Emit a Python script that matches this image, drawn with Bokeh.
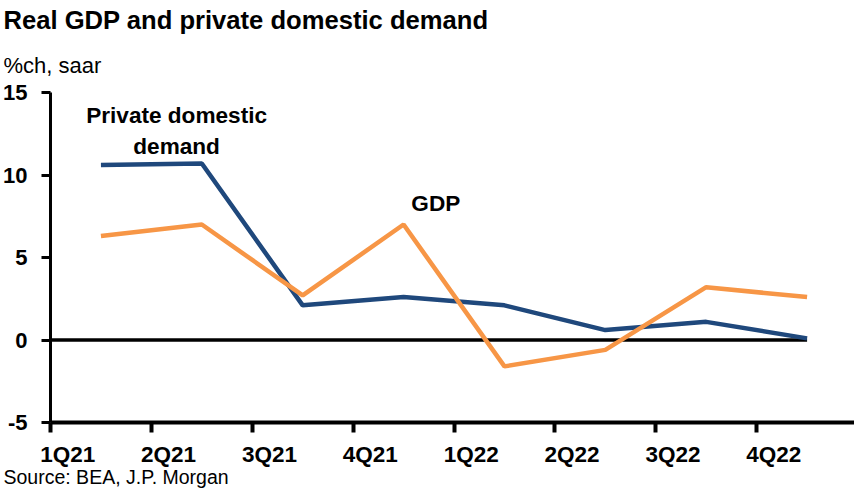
from bokeh.plotting import figure
from bokeh.models import FixedTicker, LinearAxis, Range1d, Title, Label
from bokeh.embed import file_html
from bokeh.resources import INLINE

# ---- data ----
quarters = ["1Q21", "2Q21", "3Q21", "4Q21", "1Q22", "2Q22", "3Q22", "4Q22"]
private_demand = [10.6, 10.7, 2.1, 2.6, 2.1, 0.6, 1.1, 0.1]
gdp = [6.3, 7.0, 2.7, 7.0, -1.6, -0.6, 3.2, 2.6]
y_ticks = [-5, 0, 5, 10, 15]

FONT = "Liberation Sans"
NAVY = "#1F487C"
ORANGE = "#F79646"

n = len(quarters)
xs = [i + 0.5 for i in range(n)]          # points sit mid-quarter
tick_pos = list(range(n))                  # quarter boundaries
LABEL_SHIFT = 0.17
label_pos = [i + LABEL_SHIFT for i in range(n)]

p = figure(
    frame_width=804, frame_height=330,
    x_range=Range1d(0, 7.97), y_range=Range1d(y_ticks[0], y_ticks[-1]),
    output_backend="svg", toolbar_location=None, title=None,
    min_border_left=47, min_border_right=0, min_border_top=10, min_border_bottom=68,
)
p.outline_line_color = None
p.xgrid.grid_line_color = None
p.ygrid.grid_line_color = None
p.background_fill_color = "white"

# titles (subtitle first => closer to frame)
sub = Title(text="%ch, saar", align="left", offset=-47, text_font=FONT,
            text_font_size="22px", text_font_style="normal", text_color="black",
            standoff=29)
main = Title(text="Real GDP and private domestic demand", align="left", offset=-47,
             text_font=FONT, text_font_size="25.6px", text_font_style="bold", text_color="black",
             standoff=6)
p.add_layout(sub, "above")
p.add_layout(main, "above")

# y axis
ya = p.yaxis[0]
ya.ticker = FixedTicker(ticks=y_ticks)
ya.major_label_overrides = {t: str(t) for t in y_ticks}
ya.axis_line_width = 3
ya.axis_line_color = "black"
ya.major_tick_line_width = 3
ya.major_tick_out = 9
ya.major_tick_in = 0
ya.minor_tick_line_color = None
ya.major_label_text_font = FONT
ya.major_label_text_font_size = "22px"
ya.major_label_text_font_style = "bold"
ya.major_label_text_color = "black"
ya.major_label_standoff = 14

# x axis: tick marks at quarter boundaries
xa = p.xaxis[0]
xa.ticker = FixedTicker(ticks=tick_pos)
xa.axis_line_width = 4
xa.axis_line_color = "black"
xa.major_tick_line_width = 4
xa.major_tick_out = 10
xa.major_tick_in = 0
xa.minor_tick_line_color = None
xa.major_label_text_font_size = "1px"
xa.major_label_text_alpha = 0
xa.major_label_standoff = 0

# x axis labels (shifted right of tick marks)
xl = LinearAxis(
    ticker=FixedTicker(ticks=label_pos),
    major_label_overrides={t: q for t, q in zip(label_pos, quarters)},
    axis_line_color=None, major_tick_line_color=None, minor_tick_line_color=None,
    major_tick_out=0, major_tick_in=0, major_label_standoff=9,
    major_label_text_font=FONT, major_label_text_font_size="22.5px",
    major_label_text_font_style="bold", major_label_text_color="black",
)
p.add_layout(xl, "below")

src = Title(text="Source: BEA, J.P. Morgan", align="left", offset=-47, text_font=FONT,
            text_font_size="19.5px", text_font_style="normal", text_color="black",
            standoff=-12)
p.add_layout(src, "below")

# zero line up to last observation
p.line([0, xs[-1]], [0, 0], line_color="black", line_width=3.5)

# series
p.line(xs, private_demand, line_color=NAVY, line_width=4.5)
p.line(xs, gdp, line_color=ORANGE, line_width=4.5)

# in-chart labels
for txt, x, y in [("Private domestic", 1.25, 13.62), ("demand", 1.25, 11.75), ("GDP", 3.82, 8.30)]:
    p.add_layout(Label(x=x, y=y, text=txt, text_align="center", text_baseline="alphabetic",
                       text_font=FONT, text_font_size="22.6px", text_font_style="bold",
                       text_color="black"))

open("out.html", "w").write(file_html(p, INLINE))
